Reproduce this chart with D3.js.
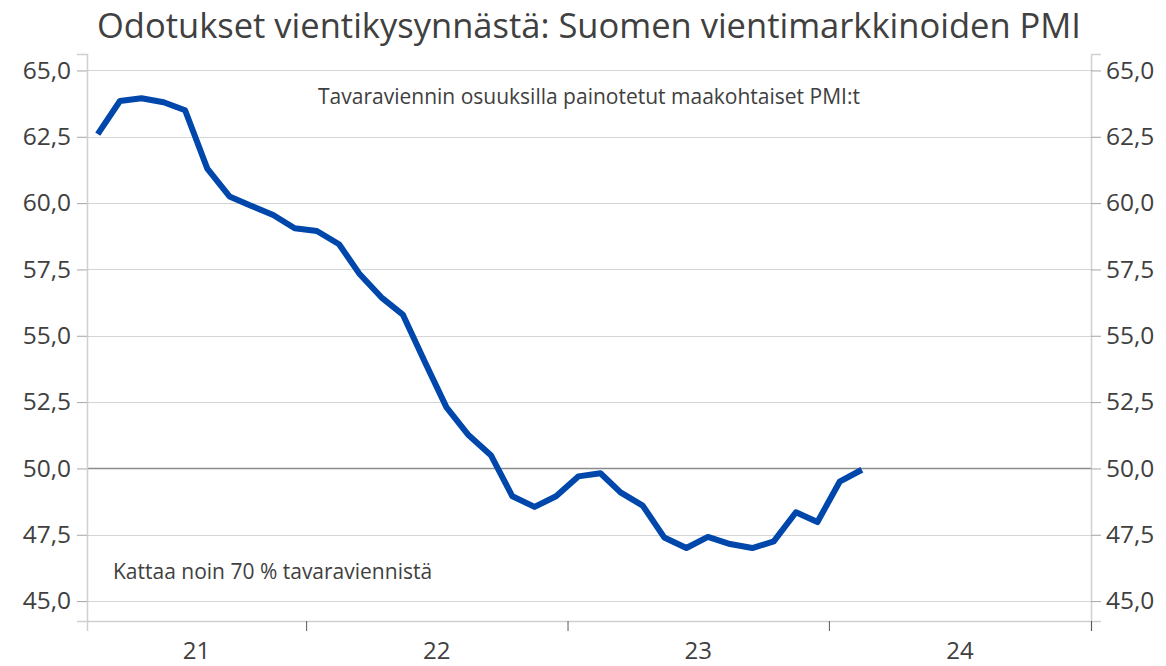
<!DOCTYPE html>
<html>
<head>
<meta charset="utf-8">
<script src="https://cdn.jsdelivr.net/npm/d3@7"></script>
<style>
  body { margin: 0; background: #fff; }
  svg text { font-family: "Open Sans", "Noto Sans", sans-serif; fill: #404040; }
</style>
</head>
<body>
<div id="chart"></div>
<script>
// monthly data, Mar 2021 - Feb 2024
const months = ["2021-03","2021-04","2021-05","2021-06","2021-07","2021-08","2021-09","2021-10","2021-11","2021-12",
  "2022-01","2022-02","2022-03","2022-04","2022-05","2022-06","2022-07","2022-08","2022-09","2022-10","2022-11","2022-12",
  "2023-01","2023-02","2023-03","2023-04","2023-05","2023-06","2023-07","2023-08","2023-09","2023-10","2023-11","2023-12",
  "2024-01","2024-02"];
const pmiValues = [62.6, 63.85, 63.95, 63.8, 63.5, 61.3, 60.25, 59.9, 59.55, 59.05,
  58.95, 58.45, 57.35, 56.45, 55.8, 54.0, 52.3, 51.25, 50.5, 48.95, 48.55, 48.95,
  49.7, 49.82, 49.1, 48.6, 47.4, 47.0, 47.42, 47.15, 47.0, 47.25, 48.35, 47.98,
  49.5, 49.95];
const yTicks = [45, 47.5, 50, 52.5, 55, 57.5, 60, 62.5, 65];
const yearLabels = ["21", "22", "23", "24"];
const titleText = "Odotukset vientikysynnästä: Suomen vientimarkkinoiden PMI";
const noteTop = "Tavaraviennin osuuksilla painotetut maakohtaiset PMI:t";
const noteBottom = "Kattaa noin 70 % tavaraviennistä";

let width = 1166, height = 666;
let margin = { top: 54, right: 75, bottom: 45, left: 87 };
let innerW = width - margin.left - margin.right;
let innerH = height - margin.top - margin.bottom;

let parse = d3.timeParse("%Y-%m");
let data = months.map((m, i) => ({ date: d3.timeDay.offset(parse(m), 15), value: pmiValues[i] }));

let svg = d3.select("#chart").append("svg")
    .attr("width", width)
    .attr("height", height);

svg.append("text")
    .attr("x", 589)
    .attr("y", 38)
    .attr("text-anchor", "middle")
    .style("font-size", "34.5px")
    .text(titleText);

let g = svg.append("g")
    .attr("transform", `translate(${margin.left}, ${margin.top})`);

let x = d3.scaleTime()
    .domain([new Date(2021, 2, 1), new Date(2025, 0, 1)])
    .range([0, innerW]);

let y = d3.scaleLinear()
    .domain([44.25, 65.62])
    .range([innerH, 0]);

// gridlines
g.selectAll(".grid")
    .data(yTicks)
    .enter().append("line")
    .attr("class", "grid")
    .attr("x1", 0)
    .attr("x2", innerW)
    .attr("y1", d => Math.round(y(d)) + 0.5)
    .attr("y2", d => Math.round(y(d)) + 0.5)
    .attr("stroke", d => d === 50 ? "#8c8c8c" : "#d4d4d4")
    .attr("stroke-width", d => d === 50 ? 1.5 : 1.2);

let fmt = d => d3.format(".1f")(d).replace(".", ",");

let yLeft = g.append("g")
    .call(d3.axisLeft(y).tickValues(yTicks).tickFormat(fmt).tickSize(10).tickPadding(6));
let yRight = g.append("g")
    .attr("transform", `translate(${innerW}, 0)`)
    .call(d3.axisRight(y).tickValues(yTicks).tickFormat(fmt).tickSize(10).tickPadding(5));

[yLeft, yRight].forEach(ax => {
    ax.select(".domain").attr("stroke", "#d0d0d0").attr("stroke-width", 1.5);
    ax.selectAll(".tick line").attr("stroke", "#a6a6a6");
    ax.selectAll(".tick text").style("font-size", "24.5px").attr("fill", "#595959");
});

// x axis: ticks at year boundaries, labels centered in each year
let yearStarts = [new Date(2022, 0, 1), new Date(2023, 0, 1), new Date(2024, 0, 1), new Date(2025, 0, 1)];
let xAxis = g.append("g")
    .attr("transform", `translate(0, ${innerH})`)
    .call(d3.axisBottom(x).tickValues(yearStarts).tickFormat("").tickSize(10));
xAxis.select(".domain").attr("stroke", "#d0d0d0").attr("stroke-width", 1.5);
xAxis.selectAll(".tick line").attr("stroke", "#595959");

xAxis.selectAll(".yearlabel")
    .data(yearLabels)
    .enter().append("text")
    .attr("class", "yearlabel")
    .attr("x", (d, i) => {
        let a = Math.max(x(new Date(2021 + i, 0, 1)), 0);
        let b = x(new Date(2022 + i, 0, 1));
        return (a + b) / 2;
    })
    .attr("y", 38)
    .attr("text-anchor", "middle")
    .style("font-size", "24px")
    .attr("fill", "#595959")
    .text(d => d);

// line
let line = d3.line()
    .x(d => x(d.date))
    .y(d => y(d.value));

g.append("path")
    .datum(data)
    .attr("fill", "none")
    .attr("stroke", "#0047ab")
    .attr("stroke-width", 6)
    .attr("stroke-linejoin", "round")
    .attr("d", line);

// annotations
g.append("text")
    .attr("x", innerW / 2)
    .attr("y", 50)
    .attr("text-anchor", "middle")
    .style("font-size", "21px")
    .text(noteTop);

g.append("text")
    .attr("x", 26)
    .attr("y", 525)
    .style("font-size", "21px")
    .text(noteBottom);
</script>
</body>
</html>
